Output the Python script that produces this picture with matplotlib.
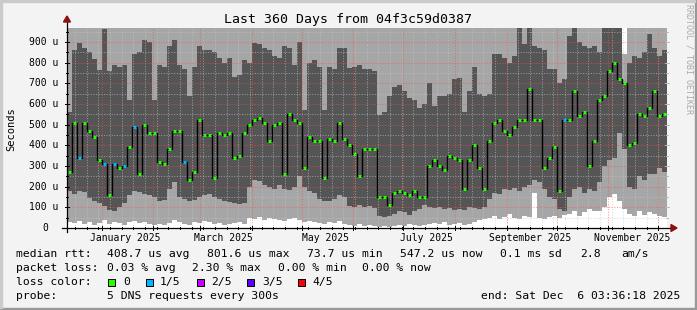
#!/usr/bin/env python3
"""
SmokePing-style 360 day latency chart (median rtt + smoke)
"""

from datetime import datetime, timedelta
import numpy as np
import matplotlib
matplotlib.use('Agg')
import matplotlib.pyplot as plt
from matplotlib.patches import Rectangle, Polygon
from matplotlib.lines import Line2D

# ---- data (values in microseconds, one bar = 3 days) ----
median_rtt = [
    270, 510, 340, 510, 470, 440, 330, 310, 160, 310, 290, 300, 390, 490, 260, 500, 460, 460, 320, 310,
    380, 470, 470, 320, 230, 270, 520, 450, 450, 240, 460, 450, 460, 340, 350, 460, 500, 520, 530, 510,
    420, 500, 510, 260, 550, 520, 510, 290, 440, 420, 420, 240, 430, 420, 510, 430, 400, 360, 250, 380,
    380, 380, 150, 150, 110, 170, 180, 170, 160, 180, 150, 150, 300, 330, 300, 280, 350, 340, 330, 190,
    330, 400, 290, 190, 420, 510, 520, 470, 450, 490, 520, 520, 670, 520, 520, 290, 340, 390, 180, 520,
    520, 660, 540, 560, 300, 420, 620, 640, 760, 800, 720, 700, 400, 410, 550, 540, 580, 660, 540, 550,
]
loss = [
    0, 0, 1, 0, 0, 0, 0, 1, 0, 1, 0, 1, 0, 1, 0, 0, 0, 0, 0, 0,
    0, 0, 0, 1, 0, 0, 0, 0, 0, 0, 0, 0, 0, 0, 0, 0, 0, 0, 0, 0,
    0, 0, 0, 0, 0, 0, 0, 0, 0, 0, 0, 0, 0, 0, 0, 0, 0, 0, 0, 0,
    0, 0, 0, 0, 0, 0, 0, 0, 0, 0, 0, 0, 0, 0, 0, 0, 0, 0, 0, 0,
    0, 0, 0, 0, 0, 0, 0, 0, 0, 0, 0, 0, 0, 0, 0, 0, 0, 0, 0, 1,
    0, 0, 0, 0, 0, 0, 0, 0, 0, 0, 0, 0, 0, 0, 0, 0, 0, 0, 0, 0,
]
smoke_min = [
    30, 25, 35, 20, 30, 15, 25, 40, 20, 30, 25, 15, 30, 35, 25, 30, 20, 15, 20, 15,
    25, 40, 30, 20, 15, 30, 25, 35, 30, 20, 25, 15, 20, 25, 30, 20, 50, 45, 55, 40,
    50, 45, 40, 35, 45, 50, 40, 30, 35, 30, 25, 20, 30, 25, 35, 20, 15, 10, 20, 10,
    15, 10, 5, 10, 5, 10, 15, 10, 20, 15, 10, 15, 20, 25, 20, 30, 15, 20, 25, 15,
    20, 30, 40, 45, 50, 60, 45, 55, 70, 50, 45, 60, 55, 170, 50, 45, 55, 60, 50, 65,
    70, 80, 60, 75, 90, 80, 80, 100, 150, 165, 130, 90, 70, 60, 80, 65, 75, 70, 60, 55,
]
smoke_low = [
    180, 165, 180, 175, 145, 130, 120, 105, 85, 80, 100, 120, 160, 180, 175, 165, 160, 150, 130, 135,
    190, 220, 150, 140, 130, 135, 150, 160, 165, 150, 140, 130, 125, 120, 115, 120, 200, 230, 225, 210,
    200, 190, 210, 190, 185, 200, 250, 200, 180, 170, 140, 130, 130, 140, 160, 150, 105, 100, 110, 100,
    105, 95, 60, 55, 60, 70, 80, 75, 65, 80, 90, 110, 100, 95, 100, 90, 95, 85, 90, 85,
    100, 95, 90, 100, 140, 170, 165, 190, 185, 195, 180, 200, 210, 230, 220, 190, 150, 140, 90, 80,
    150, 190, 200, 170, 190, 180, 220, 300, 330, 340, 460, 380, 200, 190, 250, 230, 260, 260, 290, 270,
]
smoke_high = [
    560, 860, 895, 870, 850, 815, 765, 960, 760, 790, 780, 790, 620, 840, 850, 910, 900, 620, 790, 780,
    880, 910, 790, 770, 640, 780, 880, 860, 860, 850, 820, 800, 820, 730, 740, 810, 800, 895, 890, 870,
    860, 830, 820, 880, 870, 790, 900, 570, 800, 810, 780, 570, 780, 770, 870, 870, 775, 780, 790, 770,
    770, 760, 545, 560, 640, 680, 690, 660, 630, 620, 580, 600, 700, 590, 640, 640, 650, 720, 725, 560,
    660, 780, 650, 640, 650, 840, 840, 820, 800, 830, 970, 890, 970, 880, 870, 860, 770, 770, 700, 720,
    930, 970, 900, 880, 870, 880, 850, 970, 970, 970, 970, 700, 800, 830, 820, 850, 940, 870, 830, 860,
]
# outermost ping: clipped above the chart except one day
smoke_max = [
    990, 990, 990, 990, 990, 990, 990, 990, 990, 990, 990, 990, 990, 990, 990, 990, 990, 990, 990, 990,
    990, 990, 990, 990, 990, 990, 990, 990, 990, 990, 990, 990, 990, 990, 990, 990, 990, 990, 990, 990,
    990, 990, 990, 990, 990, 990, 990, 990, 990, 990, 990, 990, 990, 990, 990, 990, 990, 990, 990, 990,
    990, 990, 990, 990, 990, 990, 990, 990, 990, 990, 990, 990, 990, 990, 990, 990, 990, 990, 990, 990,
    990, 990, 990, 990, 990, 990, 990, 990, 990, 990, 990, 990, 990, 990, 990, 990, 990, 990, 990, 990,
    990, 990, 990, 990, 990, 990, 990, 990, 990, 990, 990, 840, 990, 990, 990, 990, 990, 990, 990, 990,
]
y_ticks = [0, 100, 200, 300, 400, 500, 600, 700, 800, 900]
y_labels = ['0', '100 u', '200 u', '300 u', '400 u', '500 u', '600 u', '700 u', '800 u', '900 u']
x_label_months = [(2025, 1), (2025, 3), (2025, 5), (2025, 7), (2025, 9), (2025, 11)]
x_labels = ['January 2025', 'March 2025', 'May 2025', 'July 2025', 'September 2025', 'November 2025']

end = datetime(2025, 12, 6, 3, 36, 18)
start = end - timedelta(days=360)
BAR_DAYS = 3

LIGHT = '#a6a6a6'
DARK = '#555555'
LOSS_COLORS = ['#26ff00', '#00b8ff', '#c800ff', '#5e00ff', '#ff0000']
FONT = 'DejaVu Sans Mono'

W, H = 697, 310
L, R, T, B = 67, 667, 28, 228


def fx(px):
    return px / W


def fy(py):
    return 1 - py / H


def day_of(d):
    return (d - start).total_seconds() / 86400.0


fig = plt.figure(figsize=(W / 100, H / 100), dpi=100)
fig.patch.set_facecolor('#f3f3f3')

# 3D frame
fig.patches.append(Rectangle((0, 0), 1, 2 / H, transform=fig.transFigure, color='#999999', zorder=0))
fig.patches.append(Rectangle((1 - 2 / W, 0), 2 / W, 1, transform=fig.transFigure, color='#999999', zorder=0))
fig.patches.append(Rectangle((0, 1 - 2 / H), 1 - 2 / W, 2 / H, transform=fig.transFigure, color='#cbcbcb', zorder=0))
fig.patches.append(Rectangle((0, 2 / H), 2 / W, 1 - 4 / H, transform=fig.transFigure, color='#cbcbcb', zorder=0))

ax = fig.add_axes([fx(L), fy(B), (R - L) / W, (B - T) / H])
ax.set_facecolor('white')
ax.set_xlim(0, 360)
ax.set_ylim(0, 967)

n = len(median_rtt)
lefts = np.arange(n) * BAR_DAYS
med = np.array(median_rtt, float)
s_min = np.array(smoke_min, float)
s_low = np.array(smoke_low, float)
s_high = np.array(smoke_high, float)
s_max = np.array(smoke_max, float)

# smoke
kw = dict(width=BAR_DAYS, align='edge', linewidth=0, antialiased=False, zorder=1)
ax.bar(lefts, s_low - s_min, bottom=s_min, color=LIGHT, **kw)
ax.bar(lefts, s_high - s_low, bottom=s_low, color=DARK, **kw)
ax.bar(lefts, s_max - s_high, bottom=s_high, color=LIGHT, **kw)

# grid
dots = (0, (1, 1.5))
grid_c = (0.78, 0.78, 0.78, 0.6)
mgrid_c = (1, 0.3, 0.3, 0.6)
d = datetime(2024, 12, 16)
while d < end:
    ax.axvline(day_of(d), color=grid_c, lw=0.75, ls=dots, zorder=2)
    d += timedelta(days=7)
for yv in range(50, 1000, 100):
    ax.axhline(yv, color=grid_c, lw=0.75, ls=dots, zorder=2)
month_starts = []
for m in range(1, 13):
    month_starts.append(day_of(datetime(2025, m, 1)))
for xv in month_starts:
    ax.axvline(xv, color=mgrid_c, lw=0.75, ls=dots, zorder=2)
for yv in y_ticks[1:]:
    ax.axhline(yv, color=mgrid_c, lw=0.75, ls=dots, zorder=2)

# median line + loss coloured marks
edges = np.arange(n + 1) * BAR_DAYS
ax.stairs(med, edges, baseline=None, color='black', lw=1.0, zorder=4)
colors = [LOSS_COLORS[k] for k in loss]
ax.hlines(med, lefts + 0.45, lefts + BAR_DAYS - 0.45, colors=colors, lw=2.2, zorder=5)

for sp in ax.spines.values():
    sp.set_visible(False)
ax.set_xticks([])
ax.set_yticks([])

# axes lines and arrows (pixel coordinates)
fig.add_artist(Line2D([fx(62), fx(671)], [fy(B), fy(B)], color='black', lw=0.9, zorder=6))
fig.add_artist(Line2D([fx(L), fx(L)], [fy(232), fy(22)], color='black', lw=0.9, zorder=6))
fig.add_artist(Polygon([[fx(L - 3.5), fy(22)], [fx(L + 3.5), fy(22)], [fx(L), fy(16)]],
                       closed=True, color='#8b1010', zorder=7))
fig.add_artist(Polygon([[fx(671), fy(B - 3.5)], [fx(671), fy(B + 3.5)], [fx(677), fy(B)]],
                       closed=True, color='#8b1010', zorder=7))

# ticks
for xv in month_starts:
    px = L + xv / 360 * (R - L)
    fig.add_artist(Line2D([fx(px), fx(px)], [fy(B - 2), fy(B + 2)], color='black', lw=0.7))
d = datetime(2024, 12, 16)
while d < end:
    px = L + day_of(d) / 360 * (R - L)
    fig.add_artist(Line2D([fx(px), fx(px)], [fy(B - 1), fy(B + 1)], color='black', lw=0.7))
    d += timedelta(days=7)
for yv in range(0, 1000, 50):
    py = B - yv / 967 * (B - T)
    tl = 2 if yv % 100 == 0 else 1
    fig.add_artist(Line2D([fx(L - tl), fx(L + tl)], [fy(py), fy(py)], color='black', lw=0.7))
    fig.add_artist(Line2D([fx(R - tl), fx(R + tl)], [fy(py), fy(py)], color='#bbbbbb', lw=0.7))

# tick labels
for yv, lab in zip(y_ticks, y_labels):
    py = B - yv / 967 * (B - T)
    px = 29 if len(lab) > 1 else 42
    fig.text(fx(px), fy(py), lab, ha='left', va='center', fontsize=7, family=FONT)
for (yr, mo), lab in zip(x_label_months, x_labels):
    px = L + day_of(datetime(yr, mo, 15)) / 360 * (R - L)
    fig.text(fx(px), fy(238), lab, ha='center', va='center', fontsize=7, family=FONT)

fig.text(fx(348), fy(19), 'Last 360 Days from 04f3c59d0387', ha='center', va='center',
         fontsize=9.5, family=FONT)
fig.text(fx(11), fy(129), 'Seconds', ha='center', va='center', rotation=90, fontsize=7.5, family=FONT)
fig.text(fx(689), fy(4), 'RRDTOOL / TOBI OETIKER', ha='center', va='top', rotation=270,
         fontsize=6, family=FONT, color='#aaaaaa')

# legend
LF = 8.2
rows = [
    (254, [(16, 'median rtt:'), (107, '408.7 us avg'), (207, '801.6 us max'), (307, '73.7 us min'),
           (400, '547.2 us now'), (500, '0.1 ms sd'), (580, '2.8'), (621, 'am/s')]),
    (268, [(16, 'packet loss:'), (107, '0.03 % avg'), (192, '2.30 % max'), (278, '0.00 % min'),
           (362, '0.00 % now')]),
    (282, [(16, 'loss color:'), (123, '0'), (160, '1/5'), (211, '2/5'), (262, '3/5'), (312, '4/5')]),
    (296, [(16, 'probe:'), (107, '5 DNS requests every 300s')]),
]
for py, items in rows:
    for px, s in items:
        fig.text(fx(px), fy(py), s, ha='left', va='center', fontsize=LF, family=FONT)
for px, c in zip([108, 146, 197, 247, 298], LOSS_COLORS):
    fig.patches.append(Rectangle((fx(px), fy(286)), 7 / W, 7 / H, transform=fig.transFigure,
                                 facecolor=c, edgecolor='black', lw=0.7, zorder=3))
fig.text(fx(680), fy(296), 'end: Sat Dec  6 03:36:18 2025', ha='right', va='center',
         fontsize=LF, family=FONT)

plt.savefig('out.png', dpi=100, facecolor=fig.get_facecolor())
print("Saved: out.png")
